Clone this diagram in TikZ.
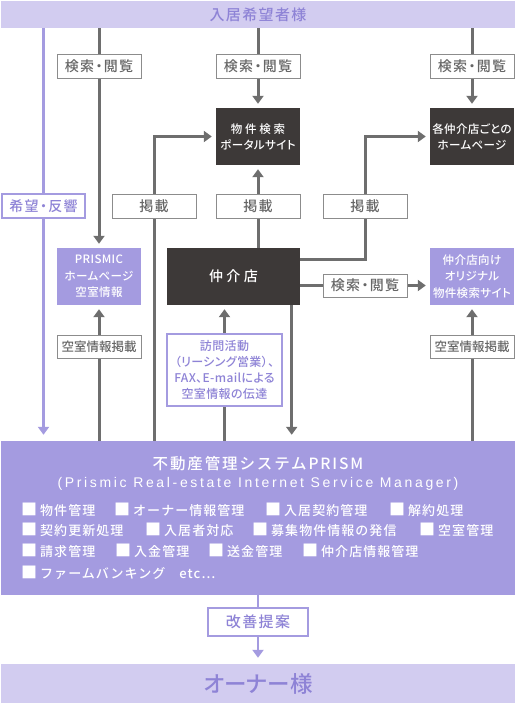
\documentclass[tikz,border=0pt]{standalone}
\usepackage{fontspec}
\setmainfont{Noto Sans CJK JP}[UprightFont=* Medium, RawFeature=+palt]
\newfontfamily\boxfont{Noto Sans CJK JP}[UprightFont=* Medium, RawFeature=+palt, LetterSpace=3]
\newfontfamily\wideboxfont{Noto Sans CJK JP}[UprightFont=* Medium, RawFeature=+palt, LetterSpace=24]
\newfontfamily\lblfont{Noto Sans CJK JP}[UprightFont=* Medium, RawFeature=+palt, LetterSpace=9]
\newfontfamily\kuufont{Noto Sans CJK JP}[UprightFont=* Medium, RawFeature=+palt]
\newfontfamily\itemfont{Noto Sans CJK JP}[UprightFont=* Medium, LetterSpace=8]
\newfontfamily\titlefont{Noto Sans CJK JP}[UprightFont=* Medium, LetterSpace=12]
\newfontfamily\subfont{Liberation Sans}[LetterSpace=19]
\usetikzlibrary{arrows.meta,backgrounds}
\definecolor{lp}{HTML}{D2CCF0}
\definecolor{mp}{HTML}{A49BE0}
\definecolor{tp}{HTML}{8E83D6}
\definecolor{dk}{HTML}{3D3938}
\definecolor{gl}{HTML}{6E6E6E}
\definecolor{gb}{HTML}{8C8C8C}
\definecolor{gt}{HTML}{666666}
\newcommand{\sq}{{\fontsize{16}{13}\selectfont■}\hspace{3pt}}
\tikzset{
  lbl/.style={draw=gb, line width=1pt, fill=white, text=gt, font=\lblfont\fontsize{14}{14}\selectfont, minimum width=84pt, minimum height=24pt, inner sep=0pt},
  plbl/.style={draw=mp, line width=1.5pt, fill=white, text=tp, inner sep=0pt},
  darkbox/.style={fill=dk, text=white, font=\boxfont\fontsize{11.5}{16}\selectfont, align=center, minimum width=84pt, minimum height=57pt, inner sep=0pt},
  pbox/.style={fill=mp, text=white, font=\boxfont\fontsize{11.5}{16.5}\selectfont, align=center, minimum width=84pt, minimum height=57pt, inner sep=0pt},
  garrow/.style={draw=gl, line width=3pt, -{Triangle[width=11pt,length=8pt]}, shorten >=4pt},
  parrow/.style={draw=mp, line width=2.5pt, -{Triangle[width=11pt,length=8pt]}, shorten >=6pt},
  item/.style={anchor=west, text=white, font=\itemfont\fontsize{13}{13}\selectfont, inner sep=0pt},
}
\begin{document}
\begin{tikzpicture}[x=1pt,y=-1pt]
\useasboundingbox (0,0) rectangle (516,704);
% bands
\node[fill=lp, minimum width=514pt, minimum height=27pt, inner sep=0pt, text=tp, font=\lblfont\fontsize{15}{15}\selectfont] (top) at (258,14.5) {入居希望者様};
\node[fill=mp, minimum width=514pt, minimum height=154pt, inner sep=0pt] (prism) at (258,518) {};
\node[fill=lp, minimum width=514pt, minimum height=39pt, inner sep=0pt, text=tp, font=\fontsize{22.5}{22}\selectfont] (owner) at (258,683.5) {オーナー様};
% labels row 1
\node[lbl] (ks1) at (99,66) {検索・閲覧};
\node[lbl] (ks2) at (258,66) {検索・閲覧};
\node[lbl] (ks3) at (472,66) {検索・閲覧};
% dark boxes
\node[darkbox] (portal) at (258,136.5) {{\wideboxfont 物件検索}\\ポータルサイト};
\node[darkbox] (homepage) at (472,136.5) {各仲介店ごとの\\ホームページ};
% row 2 labels
\node[plbl, minimum width=83pt, minimum height=24pt, font=\lblfont\fontsize{14}{14}\selectfont] (kibou) at (43.5,206) {希望・反響};
\node[lbl] (kei1) at (154,206) {掲載};
\node[lbl] (kei2) at (258,206) {掲載};
\node[lbl] (kei3) at (365,206) {掲載};
% row 3
\node[pbox] (prismic) at (99,276.5) {PRISMIC\\ホームページ\\空室情報};
\node[darkbox, minimum width=133pt, font=\wideboxfont\fontsize{14}{14}\selectfont] (chukai) at (233.5,276.5) {仲介店};
\node[lbl, minimum height=23pt] (ks4) at (365,285.5) {検索・閲覧};
\node[pbox] (orig) at (472,276.5) {仲介店向け\\オリジナル\\物件検索サイト};
% row 4
\node[lbl, minimum height=23pt, font=\kuufont\fontsize{12.5}{12.5}\selectfont] (kuu1) at (99,346.5) {空室情報掲載};
\node[lbl, minimum height=23pt, font=\kuufont\fontsize{12.5}{12.5}\selectfont] (kuu2) at (472,346.5) {空室情報掲載};
\node[plbl, minimum width=115pt, minimum height=72pt, align=center, font=\boxfont\fontsize{12}{16}\selectfont] (houmon) at (224.5,370) {訪問活動\\（リーシング営業）、\\FAX、E-mailによる\\空室情報の伝達};
% PRISM texts
\node[text=white, font=\titlefont\fontsize{15.5}{15}\selectfont, inner sep=0pt] (ptitle) at (258,464) {不動産管理システムPRISM};
\node[text=white, font=\subfont\fontsize{14}{14}\selectfont, inner sep=0pt] (psub) at (258,484) {(Prismic Real-estate Internet Service Manager)};
\node[item] (i11) at (21,510) {\sq 物件管理};
\node[item] (i12) at (114,510) {\sq オーナー情報管理};
\node[item] (i13) at (265,510) {\sq 入居契約管理};
\node[item] (i14) at (389,510) {\sq 解約処理};
\node[item] (i21) at (21,530) {\sq 契約更新処理};
\node[item] (i22) at (145,530) {\sq 入居者対応};
\node[item] (i23) at (252,530) {\sq 募集物件情報の発信};
\node[item] (i24) at (419,530) {\sq 空室管理};
\node[item] (i31) at (21,551) {\sq 請求管理};
\node[item] (i32) at (115,551) {\sq 入金管理};
\node[item] (i33) at (208,551) {\sq 送金管理};
\node[item] (i34) at (302,551) {\sq 仲介店情報管理};
\node[item] (i41) at (21,573) {\sq ファームバンキング\hspace{14pt}etc…};
% bottom label
\node[plbl, minimum width=100pt, minimum height=28pt, font=\lblfont\fontsize{15}{15}\selectfont] (kaizen) at (258,622) {改善提案};
% connectors
\begin{scope}[on background layer]
\draw[parrow] (top.south -| kibou) -- (prism.north -| kibou);
\draw[garrow] (top.south -| ks1) -- (prismic.north);
\draw[garrow] (top.south -| ks2) -- (portal.north);
\draw[garrow] (top.south -| ks3) -- (homepage.north);
\draw[garrow] (prism.north -| kei1) |- (portal.west);
\draw[garrow] (chukai.north -| kei2) -- (portal.south);
\draw[garrow] ([yshift=17.5pt]chukai.east) -| (kei3.center) |- (homepage.west);
\draw[garrow] (chukai.east |- ks4) -- (orig.west |- ks4);
\draw[garrow] (prism.north -| kuu1) -- (prismic.south);
\draw[garrow] (prism.north -| kuu2) -- (orig.south);
\draw[garrow] (prism.north -| houmon) -- (chukai.south -| houmon);
\coordinate (cdown) at ([xshift=-8.5pt]chukai.south east);
\draw[garrow, shorten >=6pt] (cdown) -- (prism.north -| cdown);
\draw[parrow] (prism.south -| kaizen) -- (owner.north);
\end{scope}
\end{tikzpicture}
\end{document}
